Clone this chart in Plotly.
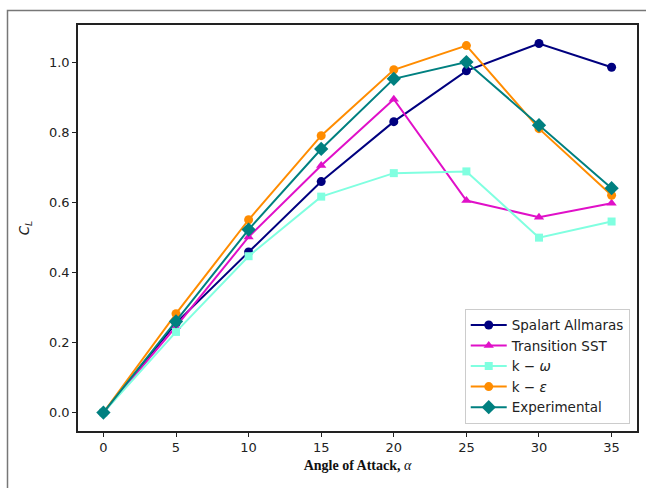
import plotly.graph_objects as go

angles = [0, 5, 10, 15, 20, 25, 30, 35]
spalart = [0.0, 0.255, 0.458, 0.659, 0.830, 0.975, 1.053, 0.985]
transition = [0.0, 0.245, 0.501, 0.705, 0.894, 0.605, 0.557, 0.597]
k_omega = [0.0, 0.230, 0.446, 0.616, 0.683, 0.688, 0.499, 0.545]
k_eps = [0.0, 0.282, 0.550, 0.790, 0.978, 1.047, 0.810, 0.620]
experimental = [0.0, 0.260, 0.522, 0.752, 0.952, 1.000, 0.820, 0.640]

x_ticks = [0, 5, 10, 15, 20, 25, 30, 35]
y_ticks = [0.0, 0.2, 0.4, 0.6, 0.8, 1.0]

series = [
    ("Spalart Allmaras", spalart, "#00007f", "circle", 9),
    ("Transition SST", transition, "#e010c8", "triangle-up", 9),
    ("k \u2212 <i>\u03c9</i>", k_omega, "#80ffe0", "square", 8),
    ("k \u2212 <i>\u03b5</i>", k_eps, "#ff8c00", "circle", 9),
    ("Experimental", experimental, "#008080", "diamond", 11),
]

fig = go.Figure()
for name, vals, color, sym, size in series:
    fig.add_trace(go.Scatter(
        x=angles, y=vals, name=name, mode="lines+markers",
        line=dict(color=color, width=2),
        marker=dict(color=color, symbol=sym, size=size),
    ))

font_main = "DejaVu Sans"
fig.update_layout(
    width=646, height=488,
    margin=dict(l=78, r=9, t=25, b=57, autoexpand=False),
    paper_bgcolor="white", plot_bgcolor="white",
    font=dict(family=font_main, size=13, color="#222"),
    showlegend=True,
    legend=dict(
        x=0.987, y=0.018, xanchor="right", yanchor="bottom",
        bgcolor="rgba(255,255,255,0.85)", bordercolor="#cccccc", borderwidth=1,
        font=dict(family=font_main, size=13.5, color="#222"),
        tracegroupgap=0, itemwidth=36,
    ),
    xaxis=dict(
        range=[-1.75, 36.75], tickvals=x_ticks, ticktext=[str(v) for v in x_ticks],
        showgrid=False, zeroline=False, showline=True, linecolor="#222", linewidth=1.5,
        mirror=True, ticks="outside", ticklen=4, tickwidth=1, tickcolor="#222",
        automargin=False, tickfont=dict(size=13),
        title=dict(text="<b>Angle of Attack, </b><i>\u03b1</i>",
                   font=dict(family="Liberation Serif", size=14, color="#111"),
                   standoff=6),
    ),
    yaxis=dict(
        range=[-0.0527, 1.1057], tickvals=y_ticks, ticktext=[f"{v:.1f}" for v in y_ticks],
        showgrid=False, zeroline=False, showline=True, linecolor="#222", linewidth=1.5,
        mirror=True, ticks="outside", ticklen=4, tickwidth=1, tickcolor="#222",
        automargin=False, tickfont=dict(size=13),
        title=dict(text="<i>C</i><sub><i>L</i></sub>",
                   font=dict(family=font_main, size=13.5, color="#222"),
                   standoff=16),
    ),
    shapes=[dict(
        type="rect", xref="paper", yref="paper",
        x0=(7.5 - 78) / 559, x1=(660 - 78) / 559,
        y0=(431 - 500) / 406, y1=(431 - 10.5) / 406,
        line=dict(color="#777777", width=1.5), fillcolor="rgba(0,0,0,0)", layer="below",
    )],
)

fig.write_html(
    "out.html",
    config={"displayModeBar": False},
    post_script="document.body.style.margin='0';document.body.style.overflow='hidden';",
)
